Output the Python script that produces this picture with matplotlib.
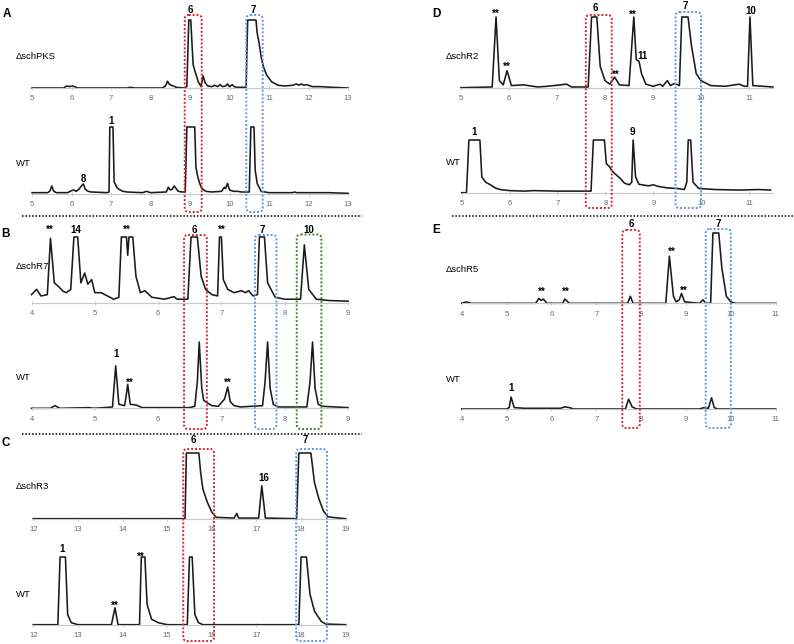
import matplotlib.pyplot as plt
from matplotlib.patches import FancyBboxPatch
import numpy as np

plt.rcParams['font.family'] = ['Liberation Sans', 'DejaVu Sans']

# ---- chromatogram traces (retention time in min, signal in % of panel height) ----
# A: ΔschPKS / WT
A_pks_t = [5.0, 5.8, 5.88, 5.95, 6.02, 6.08, 6.15, 7.0, 7.4, 7.5, 7.6, 8.3, 8.38, 8.43, 8.47, 8.52,
           8.58, 8.65, 8.85, 8.92, 8.97, 9.02, 9.05, 9.08, 9.13, 9.21, 9.28, 9.33, 9.38, 9.45, 9.55,
           9.62, 9.7, 9.76, 9.82, 9.9, 9.95, 10.0, 10.07, 10.12, 10.18, 10.3, 10.42, 10.46, 10.67,
           10.7, 10.75, 10.8, 10.86, 10.94, 11.07, 11.23, 11.4, 11.6, 11.7, 11.75, 11.82, 11.88,
           11.95, 12.1, 12.3, 12.6, 13.0]
A_pks_y = [0, 0, 3, 2, 3, 2, 0, 0, 0, 1, 0, 0, 3, 10, 6, 4,
           3, 1, 0, 2, 100, 100, 66, 34, 24, 9, 2, 18, 8, 3, 2,
           4, 2, 5, 2, 3, 6, 2, 5, 2, 1, 1, 1, 100, 100,
           81, 66, 46, 31, 19, 9, 4, 3, 4, 6, 4, 6, 4,
           5, 2, 2, 1, 0]
A_wt_t = [5.0, 5.4, 5.46, 5.5, 5.55, 5.62, 5.9, 6.0, 6.05, 6.12, 6.2, 6.25, 6.3, 6.35, 6.42, 6.5,
          6.9, 6.95, 6.97, 7.05, 7.08, 7.15, 7.2, 7.3, 7.4, 7.8, 7.9, 8.0, 8.4, 8.45, 8.5, 8.55,
          8.6, 8.65, 8.7, 8.8, 8.88, 8.92, 9.12, 9.15, 9.2, 9.25, 9.3, 9.4, 9.55, 9.8, 9.87, 9.9,
          9.95, 10.0, 10.1, 10.2, 10.3, 10.5, 10.54, 10.62, 10.65, 10.7, 10.8, 10.9, 11.0, 11.6,
          11.65, 11.7, 12.5, 13.0]
A_wt_y = [2, 2, 5, 12, 4, 2, 2, 5, 6, 4, 8, 12, 15, 7, 4, 3,
          2, 3, 100, 100, 18, 10, 7, 4, 3, 2, 4, 2, 3, 10, 6, 7,
          12, 8, 4, 3, 3, 100, 100, 40, 25, 15, 8, 4, 3, 4, 10, 8,
          16, 6, 4, 4, 3, 3, 100, 100, 36, 16, 4, 3, 2, 2,
          3, 2, 2, 1]

# B: ΔschR7 / WT
B_r7_t = [4.0, 4.08, 4.15, 4.25, 4.3, 4.36, 4.42, 4.5, 4.55, 4.62, 4.67, 4.73, 4.78, 4.84, 4.89,
          4.95, 5.0, 5.1, 5.2, 5.3, 5.38, 5.42, 5.5, 5.52, 5.54, 5.6, 5.65, 5.72, 5.79, 5.9, 6.1,
          6.25, 6.3, 6.47, 6.52, 6.62, 6.68, 6.75, 6.85, 6.94, 6.97, 7.0, 7.03, 7.1, 7.2, 7.32,
          7.38, 7.43, 7.5, 7.57, 7.6, 7.68, 7.73, 7.85, 8.0, 8.25, 8.31, 8.38, 8.5, 8.7, 9.0]
B_r7_y = [12, 20, 10, 12, 98, 30, 25, 17, 15, 20, 100, 100, 30, 45, 28,
          35, 15, 15, 10, 5, 8, 100, 100, 72, 100, 100, 40, 15, 18, 8, 5,
          9, 5, 5, 100, 100, 40, 20, 12, 10, 100, 100, 35, 20, 15, 18,
          15, 18, 10, 12, 100, 100, 30, 8, 5, 5, 88, 20, 5, 3, 2]
B_wt_t = [4.0, 4.3, 4.37, 4.45, 4.9, 5.0, 5.28, 5.33, 5.38, 5.47, 5.49, 5.52, 5.56, 5.65, 5.75,
          6.5, 6.58, 6.62, 6.65, 6.69, 6.72, 6.78, 6.85, 6.95, 7.05, 7.1, 7.14, 7.2, 7.3, 7.65,
          7.69, 7.73, 7.77, 7.82, 7.9, 8.35, 8.4, 8.44, 8.48, 8.53, 8.6, 9.0]
B_wt_y = [0, 0, 4, 0, 1, 0, 2, 64, 6, 4, 15, 36, 6, 5, 1,
          1, 3, 40, 100, 30, 12, 8, 4, 3, 14, 32, 10, 4, 2, 4,
          40, 100, 30, 6, 2, 2, 40, 100, 30, 6, 3, 1]

# C: ΔschR3 / WT
C_r3_t = [12.0, 15.4, 15.43, 15.71, 15.75, 15.8, 15.9, 16.0, 16.1, 16.5, 16.56, 16.6, 17.05,
          17.12, 17.2, 17.9, 17.95, 18.22, 18.3, 18.4, 18.5, 18.6, 18.7, 19.0]
C_r3_y = [0, 0, 100, 100, 70, 45, 25, 10, 2, 1, 8, 1, 1,
          50, 1, 0, 100, 100, 55, 30, 12, 3, 2, 0]
C_wt_t = [12.0, 12.55, 12.6, 12.72, 12.77, 12.85, 13.0, 13.75, 13.83, 13.9, 14.38, 14.42, 14.5,
          14.55, 14.65, 14.8, 15.0, 15.45, 15.5, 15.56, 15.62, 15.7, 15.8, 17.95, 18.0, 18.12,
          18.2, 18.3, 18.45, 18.55, 19.0]
C_wt_y = [0, 0, 100, 100, 15, 3, 0, 0, 25, 0, 0, 100, 100,
          30, 8, 3, 0, 0, 100, 100, 15, 3, 0, 0, 100, 100,
          45, 20, 5, 1, 0]

# D: ΔschR2 / WT
D_r2_t = [5.0, 5.65, 5.73, 5.8, 5.88, 5.96, 6.05, 6.3, 6.6, 6.8, 7.2, 7.3, 7.65, 7.72, 7.83, 7.9,
          8.0, 8.1, 8.2, 8.3, 8.5, 8.6, 8.65, 8.71, 8.76, 8.85, 9.0, 9.15, 9.2, 9.3, 9.36, 9.45,
          9.55, 9.6, 9.73, 9.8, 9.9, 10.0, 10.2, 10.5, 10.8, 10.9, 10.97, 11.02, 11.08, 11.5]
D_r2_y = [0, 1, 100, 10, 4, 24, 3, 4, 1, 2, 5, 1, 1, 100, 100, 30,
          10, 5, 15, 4, 3, 100, 40, 37, 20, 5, 2, 5, 2, 10, 3, 6,
          3, 100, 100, 60, 20, 10, 3, 2, 5, 2, 2, 100, 3, 1]
D_wt_t = [5.0, 5.1, 5.15, 5.38, 5.42, 5.5, 5.6, 5.7, 5.8, 6.0, 6.3, 6.5, 7.0, 7.5, 7.7, 7.75,
          7.98, 8.02, 8.08, 8.15, 8.3, 8.4, 8.5, 8.55, 8.58, 8.63, 8.7, 8.9, 9.0, 9.1, 9.3, 9.5,
          9.65, 9.7, 9.73, 9.78, 9.83, 9.95, 10.3, 10.8, 11.2, 11.45]
D_wt_y = [0, 0, 100, 100, 30, 20, 15, 9, 6, 4, 3, 4, 3, 3, 3, 100,
          100, 55, 50, 40, 28, 18, 15, 20, 100, 30, 16, 13, 15, 12, 9, 8,
          6, 20, 100, 100, 20, 8, 6, 5, 6, 5]

# E: ΔschR5 / WT
E_r5_t = [4.0, 4.1, 4.2, 5.65, 5.72, 5.77, 5.82, 5.9, 6.25, 6.3, 6.4, 7.7, 7.76, 7.82, 8.55, 8.63,
          8.72, 8.78, 8.85, 8.9, 8.97, 9.3, 9.38, 9.44, 9.55, 9.6, 9.73, 9.8, 9.9, 10.0, 10.1, 11.0]
E_r5_y = [0, 2, 0, 0, 7, 4, 6, 0, 0, 6, 0, 0, 10, 0, 0, 67,
          10, 2, 5, 14, 2, 0, 5, 0, 0, 100, 100, 50, 10, 2, 0, 0]
E_wt_t = [4.0, 5.0, 5.06, 5.1, 5.17, 5.4, 6.2, 6.3, 6.4, 6.5, 7.65, 7.72, 7.8, 7.9, 9.3, 9.4,
          9.5, 9.57, 9.63, 9.7, 11.0]
E_wt_y = [0, 0, 2, 17, 2, 1, 1, 3, 2, 0, 0, 14, 3, 0, 0, 2,
          1, 16, 2, 0, 0]

W, H = 794, 644
fig = plt.figure(figsize=(W / 100, H / 100), dpi=100)


def trace_axes(t, y, xlim, ticks, px0, px1, base, top):
    ax = fig.add_axes([px0 / W, (H - base) / H, (px1 - px0) / W, (base - top) / H])
    ax.plot(t, y, color='#1a1a1a', lw=1.15, clip_on=False)
    ax.set_xlim(*xlim)
    ax.set_ylim(0, 100)
    for s in ['top', 'right', 'left']:
        ax.spines[s].set_visible(False)
    ax.spines['bottom'].set_color('#c8c8c8')
    ax.spines['bottom'].set_linewidth(0.8)
    ax.set_yticks([])
    ax.set_xticks(ticks)
    ax.set_xticklabels([str(v) for v in ticks])
    ax.tick_params(axis='x', direction='inout', length=2.5, width=0.6, color='#c8c8c8',
                   labelsize=5.5, labelcolor='#5b6b7c', pad=4)
    ax.patch.set_visible(False)
    return ax


axA1 = trace_axes(A_pks_t, A_pks_y, (5, 13), range(5, 14), 32, 348, 88, 20)
axA2 = trace_axes(A_wt_t, A_wt_y, (5, 13), range(5, 14), 32, 348, 194, 127)
axB1 = trace_axes(B_r7_t, B_r7_y, (4, 9), range(4, 10), 31.5, 348, 302.5, 237)
axB2 = trace_axes(B_wt_t, B_wt_y, (4, 9), range(4, 10), 31.5, 348, 408.3, 342)
axC1 = trace_axes(C_r3_t, C_r3_y, (12, 19), range(12, 20), 33.3, 345.7, 518.7, 453)
axC2 = trace_axes(C_wt_t, C_wt_y, (12, 19), range(12, 20), 33.3, 345.7, 624.7, 557)
axD1 = trace_axes(D_r2_t, D_r2_y, (5, 11.5), range(5, 12), 461, 773, 87.7, 17)
axD2 = trace_axes(D_wt_t, D_wt_y, (5, 11.5), range(5, 12), 461.7, 773, 192.7, 140)
axE1 = trace_axes(E_r5_t, E_r5_y, (4, 11), range(4, 12), 461.7, 775.7, 303.3, 233)
axE2 = trace_axes(E_wt_t, E_wt_y, (4, 11), range(4, 12), 461.7, 775.7, 409, 339)

# overlay in pixel coordinates for labels, boxes and separators
ov = fig.add_axes([0, 0, 1, 1])
ov.set_xlim(0, W)
ov.set_ylim(H, 0)
ov.axis('off')

RED, BLUE, GREEN = '#d8262e', '#5f96dc', '#4f7d35'


def box(ax, x0, x1, top, bottom, color):
    p0 = ax.transData.transform((x0, 0))[0]
    p1 = ax.transData.transform((x1, 0))[0]
    ov.add_patch(FancyBboxPatch((p0, top), p1 - p0, bottom - top,
                                boxstyle='round,pad=0,rounding_size=4', fill=False,
                                ec=color, lw=1.4, ls=(0, (1, 1))))


box(axA1, 8.866, 9.296, 15, 212, RED)
box(axA1, 10.425, 10.84, 15, 212, BLUE)
box(axB1, 6.41, 6.77, 235, 429, RED)
box(axB1, 7.53, 7.87, 235, 429, BLUE)
box(axB1, 8.19, 8.58, 234.5, 429, GREEN)
box(axC1, 15.36, 16.05, 449, 641, RED)
box(axC1, 17.89, 18.58, 449, 641, BLUE)
box(axD1, 7.6, 8.14, 15, 208, RED)
box(axD1, 9.47, 10.0, 12, 208, BLUE)
box(axE1, 7.58, 7.97, 230, 428, RED)
box(axE1, 9.44, 10.0, 229, 428, BLUE)

# dotted separators
for x0, x1, y in [(22, 362, 216), (22, 362, 433.5), (452, 794, 215.7)]:
    ov.plot([x0, x1], [y, y], color='black', lw=1.1, ls=(0, (1, 1.2)))

# panel letters
for s, x, y in [('A', 7, 17), ('B', 6, 237), ('C', 6, 446), ('D', 436, 17), ('E', 436, 233)]:
    ov.text(x, y, s, fontsize=8.5, fontweight='bold', ha='center', va='baseline')

# strain names
for s, x, y in [('ΔschPKS', 16, 59), ('WT', 16, 166), ('ΔschR7', 16, 269), ('WT', 16, 380),
                ('ΔschR3', 16, 489), ('WT', 16, 597), ('ΔschR2', 446, 58.5), ('WT', 446, 165),
                ('ΔschR5', 446, 272), ('WT', 446, 381.5)]:
    ov.text(x, y, s, fontsize=6.8, ha='left', va='baseline')

# peak labels
peak_labels = [('6', 190.5, 13), ('7', 253.5, 13), ('1', 111, 124), ('8', 83, 182),
               ('**', 50, 232.5), ('14', 76, 232.5), ('**', 127, 232.5), ('6', 194, 232.5),
               ('**', 222, 232.5), ('7', 262, 232.5), ('10', 309, 232.5),
               ('1', 116, 357), ('**', 129.5, 386), ('**', 228, 386),
               ('6', 193.5, 443), ('7', 305.5, 443), ('16', 264, 481),
               ('1', 62, 552), ('**', 141, 560), ('**', 115, 609),
               ('**', 496, 16.5), ('**', 507, 70), ('6', 595.5, 11), ('**', 615.5, 78),
               ('**', 632.5, 17.7), ('11', 642.5, 59), ('7', 685.5, 8.5), ('10', 750.5, 13.5),
               ('1', 474, 135), ('9', 632.5, 135),
               ('6', 631.5, 227), ('7', 718.5, 227), ('**', 672, 254.7), ('**', 683.5, 293.7),
               ('**', 541.5, 295.3), ('**', 565.5, 295.3), ('1', 511, 390.7)]
for s, x, y in peak_labels:
    ov.text(x, y, s, fontsize=7, fontweight='bold', ha='center', va='baseline')

plt.savefig('out.png', dpi=100)
